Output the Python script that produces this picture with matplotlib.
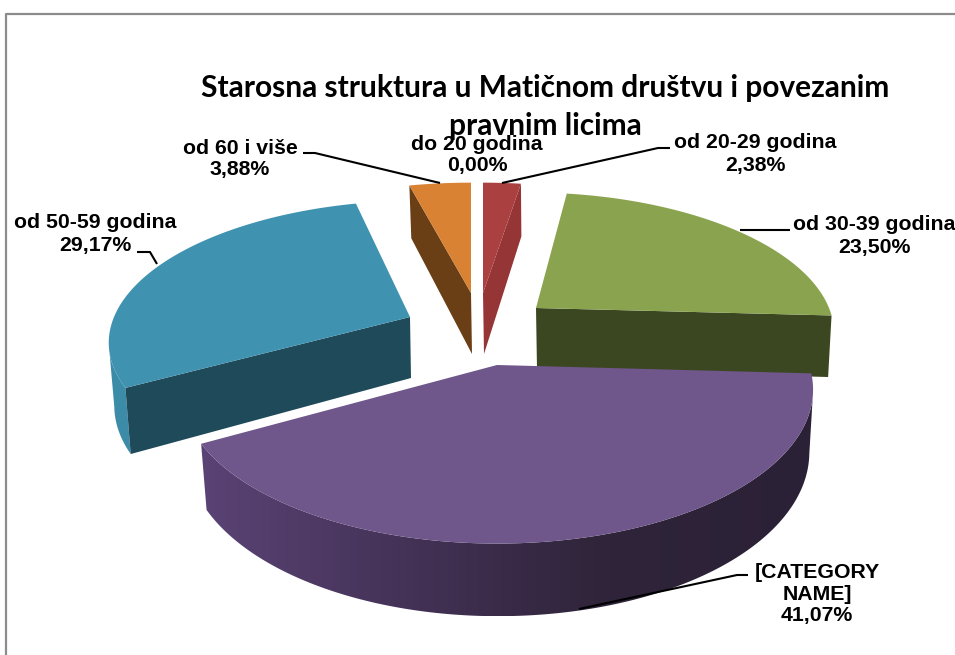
#!/usr/bin/env python
# -*- coding=utf-8 -*-
import numpy as np
import matplotlib
matplotlib.use('Agg')
import matplotlib.pyplot as plt
from matplotlib.patches import Polygon
from matplotlib.colors import LinearSegmentedColormap

title = 'Starosna struktura u Matičnom društvu i povezanim\npravnim licima'
categories = ['do 20 godina', 'od 20-29 godina', 'od 30-39 godina', '[CATEGORY\nNAME]', 'od 50-59 godina', 'od 60 i više']
values = [0.00, 2.38, 23.50, 41.07, 29.17, 3.88]
value_labels = ['0,00%', '2,38%', '23,50%', '41,07%', '29,17%', '3,88%']

# slice styles: top face, cut face, rim gradient left to right
top_colors = ['#4f81bd', '#ab4040', '#8aa34e', '#6f568b', '#3f93b0', '#d98234']
cut_colors = ['#4f81bd', '#963535', '#3b4720', '#3b2d4d', '#1f4a5a', '#6b3f16']
rim_colors = [None, None, None, ['#5a4375', '#443257', '#2f2439', '#2b2136'], ['#3c8ca8', '#3c8ca8'], None]
# tip of each exploded slice in pixels, radius, vertical radius, skew
tips = [(480, 293), (483, 293), (536, 308), (497, 365), (410, 317), (471, 293)]
radius = [295, 295, 293, 312, 296, 295]
depth = [130, 128, 134, 150, 135, 128]
skew = [0, 0, 7, 0, -8, 0]
persp = 0.16
wall = 61
draw_order = [4, 2, 5, 1, 3]

# label text position (centre), leader line
label_pos = [(477, 155), (755, 154), (874, 236), (817, 594), (95, 234), (240, 159)]
leaders = [None,
           [(502, 183), (658, 148), (670, 148)],
           [(740, 230), (790, 230)],
           [(579, 609), (737, 575), (748, 575)],
           [(157, 264), (150, 252), (137, 252)],
           [(440, 183), (315, 153), (303, 153)]]


def project(i, theta):
    t = -np.cos(theta)
    s = 1 / (1 - persp * t)
    x = tips[i][0] + radius[i] * np.sin(theta) * s + skew[i] * t
    y = tips[i][1] + depth[i] * t * s
    return x, y, s


def lower(i, x, y, s):
    return tips[i][0] + (x - tips[i][0]) * 0.985 + 1, y + wall * s


fig = plt.figure(figsize=(9.55, 6.55), dpi=100)
ax = fig.add_axes([0, 0, 1, 1])
ax.axis('off')

# chart frame, cut off at right and bottom
ax.plot([5.5, 5.5, 955], [655, 13.5, 13.5], color='#8c8c8c', lw=1.6, zorder=1)

edges = np.cumsum([0] + values) / np.sum(values) * 2 * np.pi

for i in draw_order:
    a, b = edges[i], edges[i + 1]
    arc = np.linspace(a, b, 200)
    x, y, s = project(i, arc)
    tx, ty = tips[i]
    lx, ly = lower(i, x, y, s)
    tip_low = (tx + 1, ty + wall)

    if rim_colors[i] is not None:
        # the rim faces the viewer where the arc runs leftwards
        front = np.gradient(x) < 0
        cmap = LinearSegmentedColormap.from_list('rim', rim_colors[i])
        outline = np.r_[np.c_[x[front], y[front]], np.c_[lx[front], ly[front]][::-1]]
        grad = cmap(np.linspace(0, 1, 256))[None, :, :]
        im = ax.imshow(grad, extent=(outline[:, 0].min(), outline[:, 0].max(), outline[:, 1].max(), outline[:, 1].min()),
                       aspect='auto', zorder=2)
        im.set_clip_path(Polygon(outline, transform=ax.transData))

    # radial cut faces turned towards the viewer
    if 0 < b < np.pi:
        ax.fill([tx, x[-1], lx[-1], tip_low[0]], [ty, y[-1], ly[-1], tip_low[1]], color=cut_colors[i], lw=0, zorder=2)
    if a > np.pi:
        ax.fill([tx, x[0], lx[0], tip_low[0]], [ty, y[0], ly[0], tip_low[1]], color=cut_colors[i], lw=0, zorder=2)

    ax.fill(np.r_[tx, x], np.r_[ty, y], color=top_colors[i], lw=0, zorder=2)

for i, pts in enumerate(leaders):
    if pts is not None:
        ax.plot(*zip(*pts), color='black', lw=1.5, zorder=3, solid_capstyle='butt')

for i, (cx, cy) in enumerate(label_pos):
    ax.text(cx, cy, categories[i] + '\n' + value_labels[i], ha='center', va='center', multialignment='center',
            family='Liberation Sans', weight='bold', fontsize=15.3, linespacing=1.2, color='black', zorder=4)

ax.text(545, 107, title, ha='center', va='center', multialignment='center',
        family='Lato', weight='bold', fontsize=21.5, linespacing=1.45, color='black', zorder=5)

ax.set_xlim(0, 955)
ax.set_ylim(655, 0)
plt.savefig('out.png', dpi=100)
